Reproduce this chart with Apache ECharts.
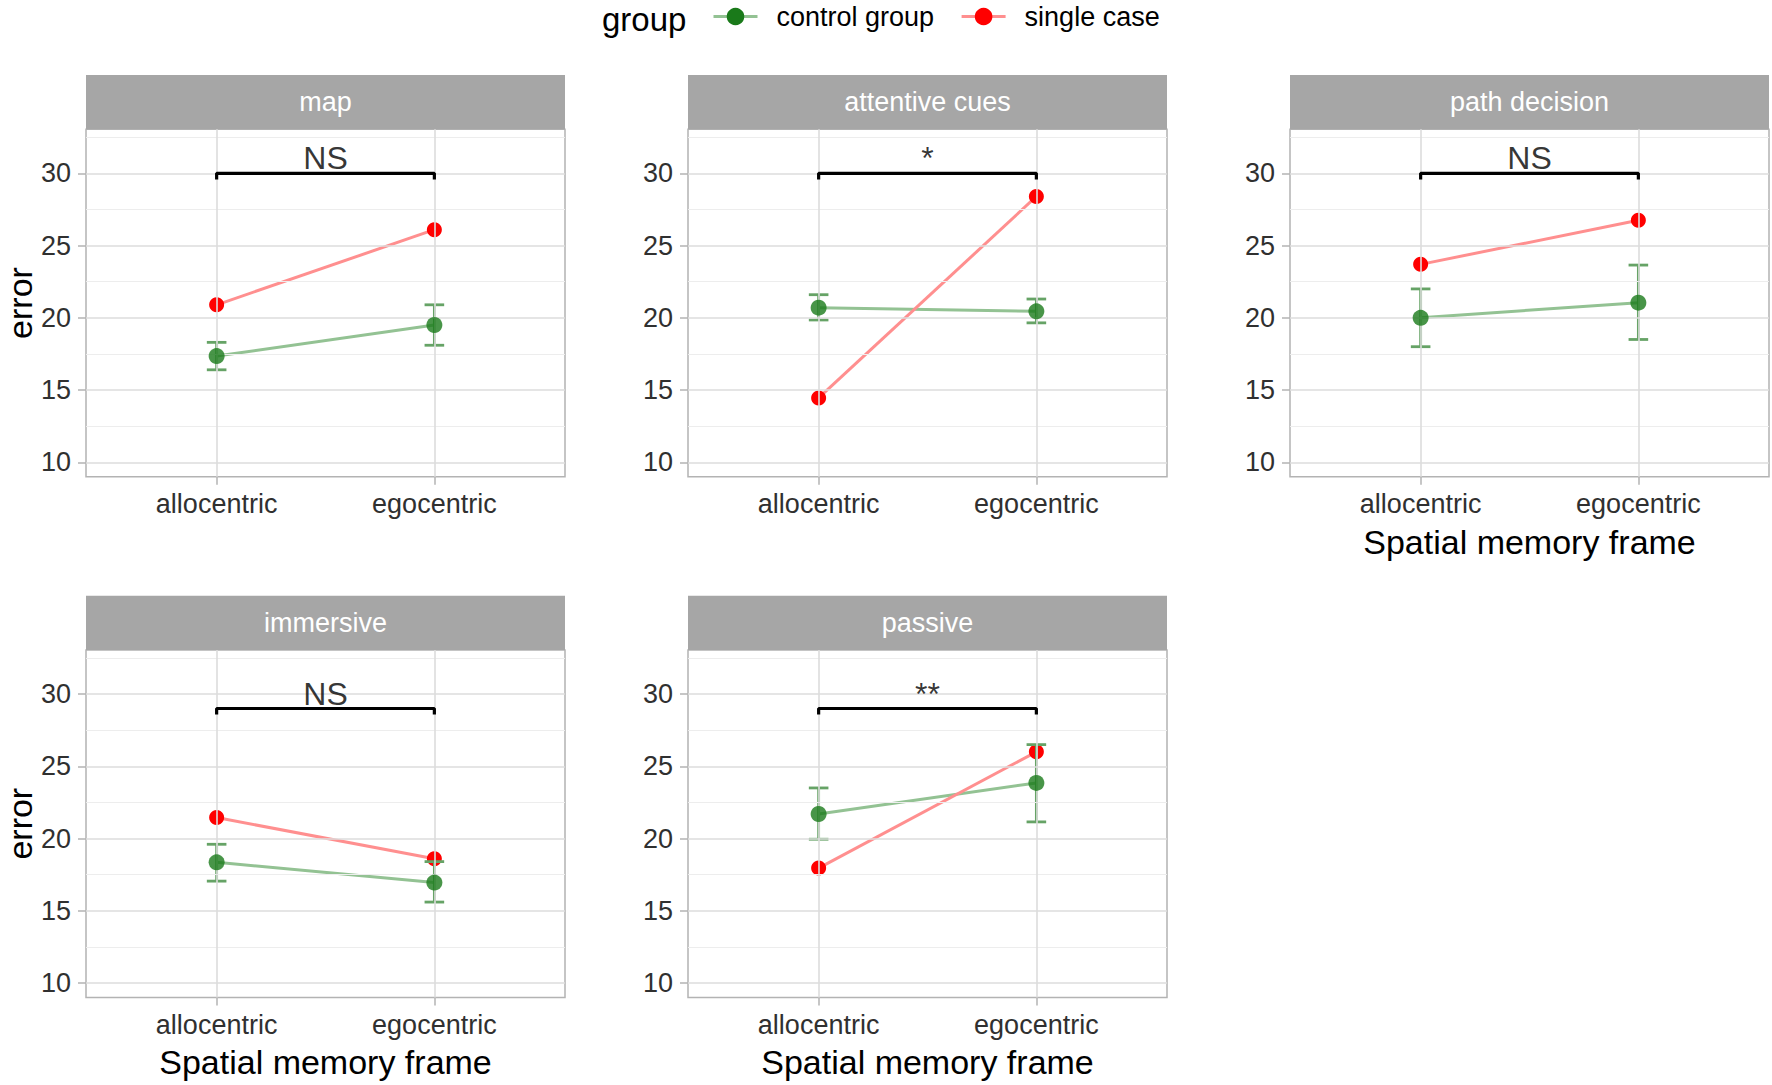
<!DOCTYPE html>
<html>
<head>
<meta charset="utf-8">
<script src="https://cdn.jsdelivr.net/npm/echarts@6/dist/echarts.min.js"></script>
<style>
html,body{margin:0;padding:0;background:#fff;}
#chart{width:1772px;height:1085px;}
</style>
</head>
<body>
<div id="chart"></div>
<script>
// ---- data ----
const facets = ['map', 'attentive cues', 'path decision', 'immersive', 'passive'];
const frames = ['allocentric', 'egocentric'];
const groups = ['control group', 'single case'];
const singleCase   = [[20.9, 26.1], [14.45, 28.4], [23.7, 26.75], [21.45, 18.6], [17.95, 26.0]];
const controlMean  = [[17.35, 19.5], [20.7, 20.45], [20.0, 21.05], [18.35, 16.95], [21.7, 23.85]];
const controlLow   = [[16.4, 18.1], [19.85, 19.65], [18.0, 18.5], [17.05, 15.6], [19.95, 21.15]];
const controlHigh  = [[18.3, 20.9], [21.6, 21.3], [22.0, 23.65], [19.6, 18.4], [23.5, 26.5]];
const sigLabels = ['NS', '*', 'NS', 'NS', '**'];
const sigY = [30, 30, 30, 29, 29];
const sigTip = 0.42;
const yTicks = [10, 15, 20, 25, 30];
const yMinor = [12.5, 17.5, 22.5, 27.5, 32.5];
const yRange = [9.0, 33.05];
const xRange = [0.4, 2.6];
const yTitle = 'error';
const xTitle = 'Spatial memory frame';
const legendTitle = 'group';

// ---- layout ----
const FONT = '"Liberation Sans", Arial, sans-serif';
const colLeft = [86, 688, 1290];
const rowTop = [129.3, 650];
const panelW = 479, panelH = 347.4, stripH = 54.3;
const pos = [[0,0],[0,1],[0,2],[1,0],[1,1]];
const xTitleOn = [false, false, true, true, true];
const yTitleOn = [true, false, false, true, false];

const RED = '#ff0000', RED_LINE = '#ff8f8f';
const GREEN = '#1a7a1a', GREEN_LINE = '#93c293', GREEN_ERR = '#66a366';

const grids = [], xAxes = [], yAxes = [], series = [], graphics = [];

facets.forEach((f, i) => {
  const [r, c] = pos[i];
  const left = colLeft[c], top = rowTop[r];
  grids.push({left: left, top: top, width: panelW, height: panelH, show: true,
    outerBoundsMode: 'none', containLabel: false,
    backgroundColor: '#fff', borderColor: '#b3b3b3', borderWidth: 1.5});
  xAxes.push({type: 'value', gridIndex: i, min: xRange[0], max: xRange[1],
    axisLine: {show: false}, splitLine: {show: false},
    axisTick: {show: true, customValues: [1, 2], length: 8, lineStyle: {color: '#b3b3b3', width: 1.5}},
    axisLabel: {show: true, customValues: [1, 2], margin: 14, fontSize: 27, color: '#303030', fontFamily: FONT,
      formatter: v => frames[Math.round(v) - 1] || ''},
    name: xTitleOn[i] ? xTitle : '', nameLocation: 'middle', nameGap: 48,
    nameTextStyle: {fontSize: 34, color: '#000', fontFamily: FONT}
  });
  yAxes.push({type: 'value', gridIndex: i, min: yRange[0], max: yRange[1],
    axisLine: {show: false}, splitLine: {show: false},
    axisTick: {show: true, customValues: yTicks, length: 8, lineStyle: {color: '#b3b3b3', width: 1.5}},
    axisLabel: {show: true, customValues: yTicks, margin: 15, fontSize: 27, color: '#303030', fontFamily: FONT},
    name: yTitleOn[i] ? yTitle : '', nameLocation: 'middle', nameGap: 48, nameRotate: 90,
    nameTextStyle: {fontSize: 34, color: '#000', fontFamily: FONT}
  });
  // grid lines through the scales
  const ml = [];
  yMinor.forEach(v => ml.push({yAxis: v, lineStyle: {color: '#ededed', width: 1.2, type: 'solid'}}));
  yTicks.forEach(v => ml.push({yAxis: v, lineStyle: {color: '#dcdcdc', width: 1.6, type: 'solid'}}));
  [1, 2].forEach(v => ml.push({xAxis: v, lineStyle: {color: '#dcdcdc', width: 1.6, type: 'solid'}}));
  series.push({type: 'line', xAxisIndex: i, yAxisIndex: i, data: [], z: 1, silent: true,
    markLine: {silent: true, symbol: ['none', 'none'], label: {show: false}, animation: false, data: ml}});
  // single case
  series.push({name: groups[1], type: 'line', xAxisIndex: i, yAxisIndex: i, z: 3,
    data: frames.map((fr, k) => [k + 1, singleCase[i][k]]),
    symbol: 'circle', symbolSize: 15, itemStyle: {color: RED},
    lineStyle: {color: RED_LINE, width: 3}});
  // control group line
  series.push({name: groups[0], type: 'line', xAxisIndex: i, yAxisIndex: i, z: 2,
    data: frames.map((fr, k) => [k + 1, controlMean[i][k]]),
    symbol: 'none', itemStyle: {color: GREEN}, lineStyle: {color: GREEN_LINE, width: 3}});
  // control error bars
  series.push({type: 'custom', xAxisIndex: i, yAxisIndex: i, z: 4, silent: true,
    data: frames.map((fr, k) => [k + 1, controlLow[i][k], controlHigh[i][k]]),
    renderItem: (params, api) => {
      const x = api.value(0), lo = api.value(1), hi = api.value(2);
      const a = api.coord([x, lo]), b = api.coord([x, hi]);
      const l = api.coord([x - 0.045, lo])[0], rr = api.coord([x + 0.045, lo])[0];
      const st = {stroke: GREEN_ERR, lineWidth: 2.8};
      return {type: 'group', children: [
        {type: 'line', shape: {x1: a[0], y1: a[1], x2: b[0], y2: b[1]}, style: st},
        {type: 'line', shape: {x1: l, y1: a[1], x2: rr, y2: a[1]}, style: st},
        {type: 'line', shape: {x1: l, y1: b[1], x2: rr, y2: b[1]}, style: st}
      ]};
    }});
  // control points
  series.push({name: groups[0], type: 'scatter', xAxisIndex: i, yAxisIndex: i, z: 5,
    data: frames.map((fr, k) => [k + 1, controlMean[i][k]]),
    symbol: 'circle', symbolSize: 16, itemStyle: {color: GREEN}});
  // significance bracket
  const y0 = sigY[i];
  series.push({type: 'line', xAxisIndex: i, yAxisIndex: i, z: 6, silent: true,
    data: [[1, y0 - sigTip], [1, y0], [2, y0], [2, y0 - sigTip]],
    symbol: 'none', lineStyle: {color: '#000', width: 3.2}});
  series.push({type: 'scatter', xAxisIndex: i, yAxisIndex: i, z: 7, silent: true,
    data: [[1.5, y0]], symbolSize: 0,
    label: {show: true, position: 'top', distance: -1,
      formatter: sigLabels[i], fontSize: 32, color: '#000', fontFamily: FONT}});
  // strip
  graphics.push({type: 'group', children: [
    {type: 'rect', shape: {x: left, y: top - stripH, width: panelW, height: stripH},
      style: {fill: '#a6a6a6'}},
    {type: 'text', style: {x: left + panelW / 2, y: top - stripH / 2, text: f, fill: '#fff',
      fontSize: 27, fontFamily: FONT, align: 'center', verticalAlign: 'middle'}}
  ]});
});

graphics.push({type: 'text', style: {x: 602, y: 19, text: legendTitle, fill: '#000', fontSize: 33,
  fontFamily: FONT, align: 'left', verticalAlign: 'middle'}});

const chart = echarts.init(document.getElementById('chart'), null, {renderer: 'svg'});
chart.setOption({
  animation: false,
  backgroundColor: '#fff',
  legend: {data: groups, left: 712, top: 3, padding: 0, itemWidth: 44, itemHeight: 22, itemGap: 26,
    lineStyle: {width: 3},
    textStyle: {fontSize: 27, color: '#000', fontFamily: FONT, padding: [0, 0, 0, 14]}},
  grid: grids, xAxis: xAxes, yAxis: yAxes, series: series, graphic: graphics
});
</script>
</body>
</html>
